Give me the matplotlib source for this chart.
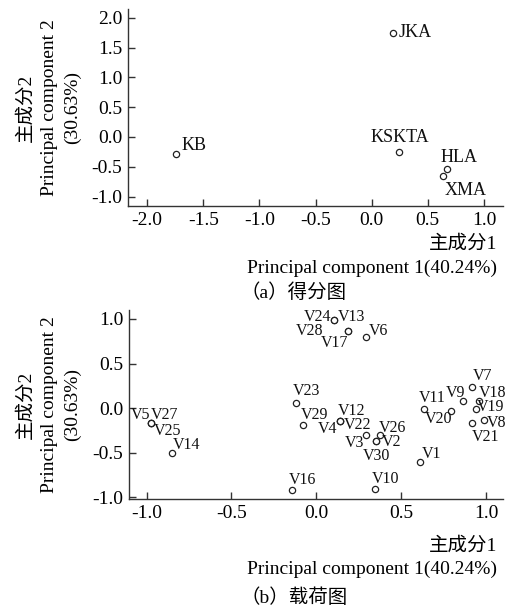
import matplotlib
matplotlib.use('Agg')
import matplotlib.pyplot as plt

plt.rcParams['font.family'] = ['Liberation Serif', 'Noto Sans CJK SC']
plt.rcParams['axes.unicode_minus'] = True

# (a) score plot
score_names = ['JKA', 'KSKTA', 'HLA', 'XMA', 'KB']
score_pc1 = [0.19, 0.246, 0.674, 0.64, -1.744]
score_pc2 = [1.75, -0.26, -0.54, -0.66, -0.29]

# (b) loading plot
load_names = ['V1', 'V2', 'V3', 'V4', 'V5', 'V6', 'V7', 'V8', 'V9', 'V10',
              'V11', 'V12', 'V13', 'V14', 'V16', 'V17', 'V18', 'V19', 'V20',
              'V21', 'V22', 'V23', 'V24', 'V25', 'V26', 'V27', 'V28', 'V29',
              'V30']
load_pc1 = [0.611, 0.354, 0.295, 0.14, -0.975, 0.291, 0.916, 0.989, 0.867,
            0.346, 0.635, 0.14, 0.106, -0.849, -0.142, 0.189, 0.959, 0.938,
            0.796, 0.916, 0.14, -0.118, 0.106, -0.975, 0.374, -0.975, 0.189,
            -0.078, 0.354]
load_pc2 = [-0.606, -0.374, -0.307, -0.146, -0.165, 0.80, 0.242, -0.128,
            0.078, -0.912, -0.011, -0.146, 0.99, -0.509, -0.923, 0.863,
            0.085, -0.015, -0.038, -0.165, -0.146, 0.056, 0.99, -0.165,
            -0.30, -0.165, 0.863, -0.19, -0.374]

x_ticks_a = [-2.0, -1.5, -1.0, -0.5, 0.0, 0.5, 1.0]
y_ticks_a = [-1.0, -0.5, 0.0, 0.5, 1.0, 1.5, 2.0]
x_ticks_b = [-1.0, -0.5, 0.0, 0.5, 1.0]
y_ticks_b = [-1.0, -0.5, 0.0, 0.5, 1.0]

# label offsets in pixels (dx, dy)
score_off = {'JKA': (22, 0), 'KSKTA': (1, 15), 'HLA': (12, 12),
             'XMA': (22, -14), 'KB': (18, 9)}
load_off = {'V24': (-17, 3), 'V13': (17, 3), 'V28': (-39, 0), 'V17': (-14, -12),
            'V6': (13, 6), 'V7': (11, 11), 'V9': (-8, 8), 'V18': (13, 8),
            'V11': (8, 11), 'V20': (-13, -8), 'V19': (15, 2), 'V21': (14, -14),
            'V8': (12, -3), 'V23': (10, 12), 'V29': (11, 10), 'V12': (11, 10),
            'V4': (-13, -8), 'V22': (17, -4), 'V3': (-12, -8), 'V26': (13, 7),
            'V2': (15, -1), 'V30': (0, -15), 'V1': (12, 8), 'V10': (11, 10),
            'V16': (10, 10), 'V5': (-10, 8), 'V27': (14, 8), 'V25': (17, -8),
            'V14': (14, 8)}

FS = 14
ylab = '主成分2\nPrincipal component 2\n(30.63%)'
xlab = '主成分1\nPrincipal component 1(40.24%)'

fig = plt.figure(figsize=(5.07, 6.09), dpi=100)
ax1 = fig.add_axes([0.2525, 0.6617, 0.7396, 0.3235])
ax2 = fig.add_axes([0.2544, 0.1806, 0.7377, 0.3103])


def style(ax, xt, yt, xlim, ylim, xl_pos, yl_pos):
    for s in ['top', 'right']:
        ax.spines[s].set_visible(False)
    for s in ['left', 'bottom']:
        ax.spines[s].set_color('#333333')
        ax.spines[s].set_linewidth(1.0)
    ax.set_xlim(*xlim)
    ax.set_ylim(*ylim)
    ax.set_xticks(xt)
    ax.set_yticks(yt)
    ax.set_xticklabels([f'{v:.1f}' for v in xt])
    ax.set_yticklabels([f'{v:.1f}' for v in yt])
    ax.tick_params(direction='in', length=5, width=1, color='#333333',
                   labelsize=FS, pad=4)
    ax.set_ylabel(ylab, fontsize=FS, linespacing=1.45)
    ax.yaxis.set_label_coords(*yl_pos)
    ax.set_xlabel(xlab, fontsize=FS, linespacing=1.5, loc='right')
    ax.xaxis.set_label_coords(*xl_pos)


def draw(ax, xs, ys, names, offs, fs):
    ax.plot(xs, ys, 'o', mfc='white', mec='#222222', mew=0.9, ms=4.5,
            linestyle='none')
    for x, y, n in zip(xs, ys, names):
        dx, dy = offs[n]
        ax.annotate(n, (x, y), xytext=(dx, dy), textcoords='offset pixels',
                    ha='center', va='center', fontsize=fs, color='#111111')


draw(ax1, score_pc1, score_pc2, score_names, score_off, 13)
style(ax1, x_ticks_a, y_ticks_a, (-2.17, 1.17), (-1.16, 2.15),
      (0.984, -0.15), (-0.125, 0.5))
draw(ax2, load_pc1, load_pc2, load_names, load_off, 11.5)
style(ax2, x_ticks_b, y_ticks_b, (-1.104, 1.10), (-1.02, 1.10),
      (0.984, -0.2), (-0.128, 0.5))

fig.text(0.58, 1 - 293 / 609, '（a）得分图', ha='center', va='center', fontsize=FS)
fig.text(0.58, 1 - 598 / 609, '（b）载荷图', ha='center', va='center', fontsize=FS)

fig.savefig('out.png', dpi=100)
